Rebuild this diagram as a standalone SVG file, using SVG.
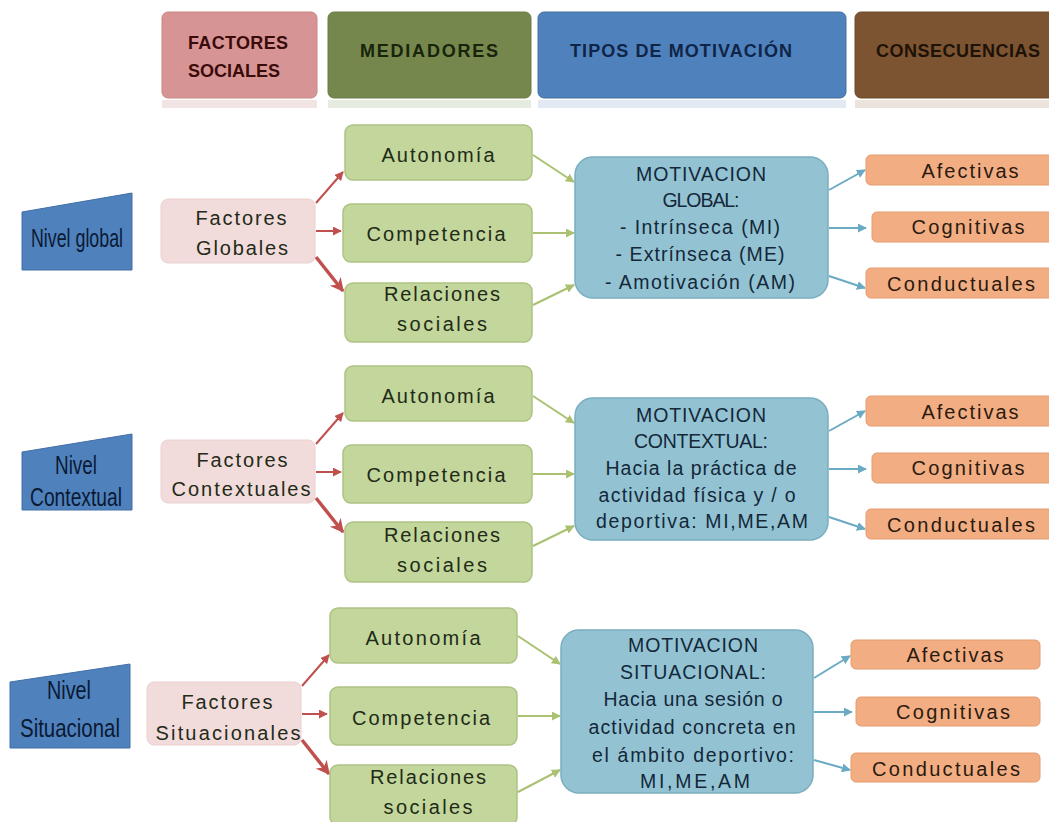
<svg xmlns="http://www.w3.org/2000/svg" width="1049" height="822" viewBox="0 0 1049 822">
<defs>
<style>
.hd{font-family:"Liberation Sans",Arial,sans-serif;font-weight:bold;font-size:18px;text-anchor:middle}
.t{font-family:"Liberation Sans",Arial,sans-serif;font-size:20px;fill:#222a18;text-anchor:middle}
.tm{font-family:"Liberation Sans",Arial,sans-serif;font-size:19.5px;fill:#14283a;text-anchor:middle}
.tc{font-family:"Liberation Sans",Arial,sans-serif;font-size:20px;fill:#2a1a10;text-anchor:middle}
.tn{font-family:"Liberation Sans",Arial,sans-serif;font-size:25px;fill:#0b1a33;text-anchor:middle}
.niv{fill:#4f81bd;stroke:#416fa6;stroke-width:1}
.fac{fill:#f2dcdb;stroke:#ead0cf;stroke-width:1}
.med{fill:#c3d69b;stroke:#aec284;stroke-width:1.5}
.mot{fill:#93c3d3;stroke:#7aaebf;stroke-width:1.5}
.con{fill:#f2ae82;stroke:#e39c6e;stroke-width:1}
.ar{stroke:#c0504d;stroke-width:2;fill:none}
.ar2{stroke:#c0504d;stroke-width:3.5;fill:none}
.ag{stroke:#a9c170;stroke-width:2;fill:none}
.ab{stroke:#6aaac4;stroke-width:2;fill:none}
</style>
<marker id="mr" viewBox="0 0 10 10" refX="9" refY="5" markerWidth="9" markerHeight="9" markerUnits="userSpaceOnUse" orient="auto"><path d="M0,0 L10,5 L0,10 z" fill="#c0504d"/></marker>
<marker id="mr2" viewBox="0 0 10 10" refX="9" refY="5" markerWidth="14" markerHeight="14" markerUnits="userSpaceOnUse" orient="auto"><path d="M0,0 L10,5 L0,10 L3,5 z" fill="#c0504d"/></marker>
<marker id="mg" viewBox="0 0 10 10" refX="9" refY="5" markerWidth="9" markerHeight="9" markerUnits="userSpaceOnUse" orient="auto"><path d="M0,0 L10,5 L0,10 z" fill="#a9c170"/></marker>
<marker id="mb" viewBox="0 0 10 10" refX="9" refY="5" markerWidth="9" markerHeight="9" markerUnits="userSpaceOnUse" orient="auto"><path d="M0,0 L10,5 L0,10 z" fill="#6aaac4"/></marker>
</defs>
<rect width="1049" height="822" fill="#ffffff"/>

<!-- headers -->
<g id="h-factores">
<rect x="162" y="100" width="155" height="8" fill="#f3e4e4"/>
<rect x="162" y="12" width="155" height="86" rx="6" fill="#d69594" stroke="#c98584"/>
<text class="hd" x="238" y="49" fill="#3b0a0a" textLength="100">FACTORES</text>
<text class="hd" x="234" y="77" fill="#3b0a0a" textLength="92">SOCIALES</text>
</g>
<g id="h-mediadores">
<rect x="328" y="100" width="203" height="8" fill="#e6ebe0"/>
<rect x="328" y="12" width="203" height="86" rx="6" fill="#75874c" stroke="#6a7b44"/>
<text class="hd" x="429" y="57" fill="#17240a" textLength="138">MEDIADORES</text>
</g>
<g id="h-tipos">
<rect x="538" y="100" width="308" height="8" fill="#e2e9f3"/>
<rect x="538" y="12" width="308" height="86" rx="6" fill="#4f81bd" stroke="#42719f"/>
<text class="hd" x="681" y="57" fill="#0f2547" textLength="222">TIPOS DE MOTIVACIÓN</text>
</g>
<g id="h-consecuencias">
<rect x="855" y="100" width="194" height="8" fill="#ece4dc"/>
<rect x="855" y="12" width="210" height="86" rx="6" fill="#7c5431" stroke="#6c482a"/>
<text class="hd" x="958" y="57" fill="#1e1208" textLength="164">CONSECUENCIAS</text>
</g>

<!-- connectors -->
<g id="connectors">
<line class="ar" x1="316" y1="203" x2="343" y2="172" marker-end="url(#mr)"/>
<line class="ar" x1="316" y1="231" x2="341" y2="231" marker-end="url(#mr)"/>
<line class="ar2" x1="316" y1="257" x2="343" y2="291" marker-end="url(#mr2)"/>
<line class="ag" x1="533" y1="155" x2="574" y2="182" marker-end="url(#mg)"/>
<line class="ag" x1="533" y1="233" x2="574" y2="233" marker-end="url(#mg)"/>
<line class="ag" x1="533" y1="305" x2="574" y2="285" marker-end="url(#mg)"/>
<line class="ab" x1="829" y1="190" x2="865" y2="170" marker-end="url(#mb)"/>
<line class="ab" x1="829" y1="228" x2="866" y2="228" marker-end="url(#mb)"/>
<line class="ab" x1="829" y1="276" x2="865" y2="288" marker-end="url(#mb)"/>

<line class="ar" x1="316" y1="444" x2="343" y2="413" marker-end="url(#mr)"/>
<line class="ar" x1="316" y1="472" x2="341" y2="472" marker-end="url(#mr)"/>
<line class="ar2" x1="316" y1="498" x2="343" y2="532" marker-end="url(#mr2)"/>
<line class="ag" x1="533" y1="396" x2="574" y2="423" marker-end="url(#mg)"/>
<line class="ag" x1="533" y1="474" x2="574" y2="474" marker-end="url(#mg)"/>
<line class="ag" x1="533" y1="546" x2="574" y2="526" marker-end="url(#mg)"/>
<line class="ab" x1="829" y1="431" x2="865" y2="411" marker-end="url(#mb)"/>
<line class="ab" x1="829" y1="469" x2="866" y2="469" marker-end="url(#mb)"/>
<line class="ab" x1="829" y1="517" x2="865" y2="529" marker-end="url(#mb)"/>

<line class="ar" x1="302" y1="686" x2="329" y2="655" marker-end="url(#mr)"/>
<line class="ar" x1="302" y1="714" x2="327" y2="714" marker-end="url(#mr)"/>
<line class="ar2" x1="302" y1="740" x2="329" y2="774" marker-end="url(#mr2)"/>
<line class="ag" x1="518" y1="636" x2="560" y2="664" marker-end="url(#mg)"/>
<line class="ag" x1="518" y1="716" x2="560" y2="716" marker-end="url(#mg)"/>
<line class="ag" x1="518" y1="792" x2="560" y2="770" marker-end="url(#mg)"/>
<line class="ab" x1="814" y1="678" x2="850" y2="656" marker-end="url(#mb)"/>
<line class="ab" x1="814" y1="712" x2="852" y2="712" marker-end="url(#mb)"/>
<line class="ab" x1="814" y1="760" x2="850" y2="770" marker-end="url(#mb)"/>
</g>

<!-- GLOBAL level -->
<g id="nivel-global">
<polygon class="niv" points="22,212 132,193 132,270 22,270"/>
<text class="tn" x="77" y="247" textLength="92" lengthAdjust="spacingAndGlyphs">Nivel global</text>
</g>
<g id="factores-globales">
<rect class="fac" x="161" y="199" width="154" height="64" rx="7"/>
<text class="t" x="241" y="225" textLength="91">Factores</text>
<text class="t" x="242" y="255" textLength="92">Globales</text>
</g>
<g id="g-autonomia">
<rect class="med" x="345" y="125" width="187" height="55" rx="8"/>
<text class="t" x="438" y="162" textLength="113">Autonomía</text>
</g>
<g id="g-competencia">
<rect class="med" x="343" y="204" width="189" height="58" rx="8"/>
<text class="t" x="436" y="241" textLength="139">Competencia</text>
</g>
<g id="g-relaciones">
<rect class="med" x="345" y="283" width="187" height="59" rx="8"/>
<text class="t" x="442" y="301" textLength="116">Relaciones</text>
<text class="t" x="442" y="331" textLength="90">sociales</text>
</g>
<g id="g-motivacion">
<rect class="mot" x="575" y="157" width="253" height="141" rx="18"/>
<text class="tm" x="701" y="181" textLength="130">MOTIVACION</text>
<text class="tm" x="701" y="207" textLength="77">GLOBAL:</text>
<text class="tm" x="700" y="234" textLength="160">- Intrínseca (MI)</text>
<text class="tm" x="700" y="261" textLength="169">- Extrínseca (ME)</text>
<text class="tm" x="700" y="289" textLength="190">- Amotivación (AM)</text>
</g>
<g id="g-afectivas">
<rect class="con" x="866" y="155" width="190" height="30" rx="5"/>
<text class="tc" x="970" y="178" textLength="97">Afectivas</text>
</g>
<g id="g-cognitivas">
<rect class="con" x="872" y="212" width="184" height="30" rx="5"/>
<text class="tc" x="968" y="234" textLength="113">Cognitivas</text>
</g>
<g id="g-conductuales">
<rect class="con" x="866" y="268" width="190" height="30" rx="5"/>
<text class="tc" x="961" y="291" textLength="148">Conductuales</text>
</g>

<!-- CONTEXTUAL level -->
<g id="nivel-contextual">
<polygon class="niv" points="22,452 132,434 132,510 22,510"/>
<text class="tn" x="76" y="474" textLength="42" lengthAdjust="spacingAndGlyphs">Nivel</text>
<text class="tn" x="76" y="506" textLength="92" lengthAdjust="spacingAndGlyphs">Contextual</text>
</g>
<g id="factores-contextuales">
<rect class="fac" x="161" y="440" width="154" height="63" rx="7"/>
<text class="t" x="242" y="467" textLength="91">Factores</text>
<text class="t" x="241" y="496" textLength="139">Contextuales</text>
</g>
<g id="c-autonomia">
<rect class="med" x="345" y="366" width="187" height="55" rx="8"/>
<text class="t" x="438" y="403" textLength="113">Autonomía</text>
</g>
<g id="c-competencia">
<rect class="med" x="343" y="445" width="189" height="58" rx="8"/>
<text class="t" x="436" y="482" textLength="139">Competencia</text>
</g>
<g id="c-relaciones">
<rect class="med" x="345" y="522" width="187" height="60" rx="8"/>
<text class="t" x="442" y="542" textLength="116">Relaciones</text>
<text class="t" x="442" y="572" textLength="90">sociales</text>
</g>
<g id="c-motivacion">
<rect class="mot" x="575" y="398" width="253" height="142" rx="18"/>
<text class="tm" x="701" y="422" textLength="130">MOTIVACION</text>
<text class="tm" x="701" y="448" textLength="134">CONTEXTUAL:</text>
<text class="tm" x="701" y="475" textLength="191">Hacia la práctica de</text>
<text class="tm" x="697" y="502" textLength="197">actividad física y / o</text>
<text class="tm" x="702" y="528" textLength="212">deportiva: MI,ME,AM</text>
</g>
<g id="c-afectivas">
<rect class="con" x="866" y="396" width="190" height="30" rx="5"/>
<text class="tc" x="970" y="419" textLength="97">Afectivas</text>
</g>
<g id="c-cognitivas">
<rect class="con" x="872" y="453" width="184" height="30" rx="5"/>
<text class="tc" x="968" y="475" textLength="113">Cognitivas</text>
</g>
<g id="c-conductuales">
<rect class="con" x="866" y="509" width="190" height="30" rx="5"/>
<text class="tc" x="961" y="532" textLength="148">Conductuales</text>
</g>

<!-- SITUACIONAL level -->
<g id="nivel-situacional">
<polygon class="niv" points="10,682 130,664 130,748 10,748"/>
<text class="tn" x="69" y="699" textLength="44" lengthAdjust="spacingAndGlyphs">Nivel</text>
<text class="tn" x="70" y="737" textLength="100" lengthAdjust="spacingAndGlyphs">Situacional</text>
</g>
<g id="factores-situacionales">
<rect class="fac" x="147" y="682" width="154" height="63" rx="7"/>
<text class="t" x="227" y="709" textLength="91">Factores</text>
<text class="t" x="228" y="740" textLength="145">Situacionales</text>
</g>
<g id="s-autonomia">
<rect class="med" x="330" y="608" width="187" height="55" rx="8"/>
<text class="t" x="423" y="645" textLength="115">Autonomía</text>
</g>
<g id="s-competencia">
<rect class="med" x="330" y="687" width="187" height="58" rx="8"/>
<text class="t" x="421" y="725" textLength="138">Competencia</text>
</g>
<g id="s-relaciones">
<rect class="med" x="330" y="765" width="187" height="60" rx="8"/>
<text class="t" x="428" y="784" textLength="116">Relaciones</text>
<text class="t" x="428" y="814" textLength="89">sociales</text>
</g>
<g id="s-motivacion">
<rect class="mot" x="561" y="630" width="252" height="163" rx="18"/>
<text class="tm" x="693" y="652" textLength="130">MOTIVACION</text>
<text class="tm" x="693" y="679" textLength="146">SITUACIONAL:</text>
<text class="tm" x="693" y="706" textLength="179">Hacia una sesión o</text>
<text class="tm" x="692" y="734" textLength="207">actividad concreta en</text>
<text class="tm" x="693" y="762" textLength="202">el ámbito deportivo:</text>
<text class="tm" x="695" y="788" textLength="110">MI,ME,AM</text>
</g>
<g id="s-afectivas">
<rect class="con" x="851" y="640" width="189" height="29" rx="5"/>
<text class="tc" x="955" y="662" textLength="97">Afectivas</text>
</g>
<g id="s-cognitivas">
<rect class="con" x="856" y="697" width="184" height="29" rx="5"/>
<text class="tc" x="953" y="719" textLength="114">Cognitivas</text>
</g>
<g id="s-conductuales">
<rect class="con" x="851" y="753" width="189" height="29" rx="5"/>
<text class="tc" x="946" y="776" textLength="148">Conductuales</text>
</g>
</svg>
